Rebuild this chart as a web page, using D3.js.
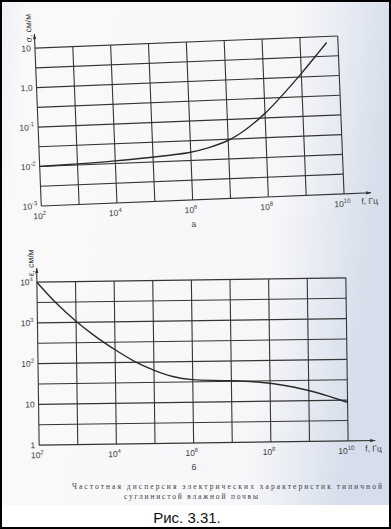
<!DOCTYPE html>
<html lang="ru">
<head>
<meta charset="utf-8">
<script src="https://d3js.org/d3.v7.min.js"></script>
<style>
  body { margin: 0; background: #fff; }
  svg { display: block; }
</style>
</head>
<body>
<div id="chart"></div>
<script>
// --- data ---
// a: conductivity σ, см/м vs frequency
var sigmaFreq = [1e2, 1e3, 1e4, 1e5, 3e5, 1e6, 3e6, 1e7, 3e7, 1e8, 3e8, 1e9, 3e9, 5e9];
var sigmaVals = [0.0101, 0.0107, 0.0115, 0.0133, 0.0143, 0.0158, 0.02, 0.028, 0.052, 0.125, 0.36, 1.2, 4, 7];

// б: permittivity ε vs frequency
var epsFreq = [1e2, 3e2, 1e3, 3e3, 1e4, 3e4, 1e5, 3e5, 1e6, 3e6, 1e7, 3e7, 1e8, 3e8, 1e9, 3e9, 1e10];
var epsVals = [10000, 3000, 1050, 450, 205, 105, 62, 42, 35, 34, 33, 31, 28, 23, 18, 13, 8.8];

// tick labels
var xTicks = [1e2, 1e4, 1e6, 1e8, 1e10];
var xTickLabels = [["10", "2"], ["10", "4"], ["10", "6"], ["10", "8"], ["10", "10"]];
var sigmaTicks = [10, 1, 0.1, 0.01, 0.001];
var sigmaTickLabels = [["10", ""], ["1,0", ""], ["10", "-1"], ["10", "-2"], ["10", "-3"]];
var epsTicks = [1e4, 1e3, 1e2, 10, 1];
var epsTickLabels = [["10", "4"], ["10", "3"], ["10", "2"], ["10", ""], ["1", ""]];

var W = 391, H = 529;
var ink = "#353535";

var svg = d3.select("#chart").append("svg")
  .attr("width", W).attr("height", H);

// paper background
var defs = svg.append("defs");
var grad = defs.append("linearGradient").attr("id", "paper")
  .attr("x1", 0).attr("y1", 0).attr("x2", 1).attr("y2", 0.15);
grad.append("stop").attr("offset", "0%").attr("stop-color", "#eceff4");
grad.append("stop").attr("offset", "8%").attr("stop-color", "#f9f9fa");
grad.append("stop").attr("offset", "75%").attr("stop-color", "#f7f7f9");
grad.append("stop").attr("offset", "100%").attr("stop-color", "#d6deeb");
svg.append("rect").attr("width", W).attr("height", H).attr("fill", "url(#paper)");
svg.append("rect").attr("x", 0).attr("y", 505).attr("width", W).attr("height", 24).attr("fill", "#fff");

defs.append("marker").attr("id", "arr")
  .attr("viewBox", "0 0 10 10").attr("refX", 9).attr("refY", 5)
  .attr("markerWidth", 7).attr("markerHeight", 5).attr("orient", "auto")
  .append("path").attr("d", "M0,2 L10,5 L0,8 Z").attr("fill", ink);

function supLabel(sel, parts, size) {
  sel.append("tspan").text(parts[0]);
  if (parts[1]) {
    sel.append("tspan").attr("dy", -4).attr("font-size", size * 0.7).text(parts[1]);
  }
}

function drawPanel(opt) {
  var g = svg.append("g")
    .attr("transform", "rotate(" + opt.angle + "," + ((opt.x0 + opt.x1) / 2) + "," + ((opt.y0 + opt.y1) / 2) + ")");

  var x = d3.scaleLog().domain([1e2, 1e10]).range([opt.x0, opt.x1]);
  var y = d3.scaleLog().domain(opt.yDomain).range([opt.y1, opt.y0]);

  // grid: every decade in x, every half decade in y
  var xGrid = d3.range(2, 11).map(function(e) { return Math.pow(10, e); });
  var lo = Math.log10(opt.yDomain[0]), hi = Math.log10(opt.yDomain[1]);
  var yGrid = d3.range(lo, hi + 0.01, 0.5).map(function(e) { return Math.pow(10, e); });

  g.append("g").selectAll("line").data(xGrid).join("line")
    .attr("x1", function(d) { return x(d); }).attr("x2", function(d) { return x(d); })
    .attr("y1", opt.y0).attr("y2", opt.y1)
    .attr("stroke", ink).attr("stroke-width", 1.1);
  g.append("g").selectAll("line").data(yGrid).join("line")
    .attr("x1", opt.x0).attr("x2", opt.x1)
    .attr("y1", function(d) { return y(d); }).attr("y2", function(d) { return y(d); })
    .attr("stroke", ink).attr("stroke-width", 1.1);

  // axes with arrows
  g.append("line").attr("x1", opt.x0).attr("x2", opt.x0)
    .attr("y1", opt.y0).attr("y2", opt.y0 - 14)
    .attr("stroke", ink).attr("stroke-width", 1.1).attr("marker-end", "url(#arr)");
  g.append("line").attr("x1", opt.x1).attr("x2", opt.x1 + 27)
    .attr("y1", opt.y1).attr("y2", opt.y1)
    .attr("stroke", ink).attr("stroke-width", 1.1).attr("marker-end", "url(#arr)");

  // curve
  var line = d3.line()
    .x(function(d) { return x(d[0]); })
    .y(function(d) { return y(d[1]); })
    .curve(d3.curveBasis);
  g.append("path").datum(d3.zip(opt.freq, opt.vals))
    .attr("d", line).attr("fill", "none")
    .attr("stroke", "#2a2a2a").attr("stroke-width", 1.4);

  var fs = 8.5;
  var font = "Liberation Sans, Arial, sans-serif";

  // x tick labels
  xTicks.forEach(function(t, i) {
    var tx = g.append("text")
      .attr("x", x(t) - 2).attr("y", opt.y1 + 13)
      .attr("text-anchor", "middle")
      .attr("font-family", font).attr("font-size", fs).attr("fill", "#3a3a3a");
    supLabel(tx, xTickLabels[i], fs);
  });

  // y tick labels
  opt.yTicks.forEach(function(t, i) {
    var tx = g.append("text")
      .attr("x", opt.x0 - 4).attr("y", y(t) + 3)
      .attr("text-anchor", "end")
      .attr("font-family", font).attr("font-size", fs).attr("fill", "#3a3a3a");
    supLabel(tx, opt.yTickLabels[i], fs);
  });

  // axis titles
  g.append("text")
    .attr("transform", "translate(" + (opt.x0 - 3) + "," + (opt.y0 - 6) + ") rotate(-90)")
    .attr("font-family", font).attr("font-size", 8.5).attr("fill", "#3a3a3a")
    .text(opt.yTitle);
  g.append("text")
    .attr("x", opt.x1 + 17).attr("y", opt.y1 + 11)
    .attr("font-family", font).attr("font-size", 8.5).attr("fill", "#3a3a3a")
    .text("f, Гц");

  // panel letter
  g.append("text")
    .attr("x", x(1e6)).attr("y", opt.y1 + 27)
    .attr("text-anchor", "middle")
    .attr("font-family", font).attr("font-size", 8.5).attr("fill", "#3a3a3a")
    .text(opt.letter);
}

drawPanel({
  x0: 38, x1: 341, y0: 42, y1: 200, angle: -2.3,
  yDomain: [1e-3, 10], freq: sigmaFreq, vals: sigmaVals,
  yTicks: sigmaTicks, yTickLabels: sigmaTickLabels,
  yTitle: "σ, см/м", letter: "а"
});

drawPanel({
  x0: 38, x1: 347, y0: 280, y1: 443, angle: -0.8,
  yDomain: [1, 1e4], freq: epsFreq, vals: epsVals,
  yTicks: epsTicks, yTickLabels: epsTickLabels,
  yTitle: "ε, см/м", letter: "б"
});

// caption
svg.append("text")
  .attr("x", 72).attr("y", 489)
  .attr("textLength", 310).attr("lengthAdjust", "spacing")
  .attr("font-family", "Liberation Serif, Times New Roman, serif")
  .attr("font-size", 7.5).attr("fill", "#3a3d44")
  .text("Частотная дисперсия электрических характеристик типичной");
svg.append("text")
  .attr("x", 124).attr("y", 499)
  .attr("textLength", 134).attr("lengthAdjust", "spacing")
  .attr("font-family", "Liberation Serif, Times New Roman, serif")
  .attr("font-size", 7.5).attr("fill", "#3a3d44")
  .text("суглинистой влажной почвы");

svg.append("text")
  .attr("x", 187).attr("y", 523)
  .attr("text-anchor", "middle")
  .attr("font-family", "Liberation Sans, Arial, sans-serif")
  .attr("font-size", 15).attr("fill", "#111")
  .text("Рис. 3.31.");

// frame
svg.append("rect").attr("x", 1).attr("y", 1).attr("width", W - 2).attr("height", H - 2)
  .attr("fill", "none").attr("stroke", "#000").attr("stroke-width", 2);
</script>
</body>
</html>
